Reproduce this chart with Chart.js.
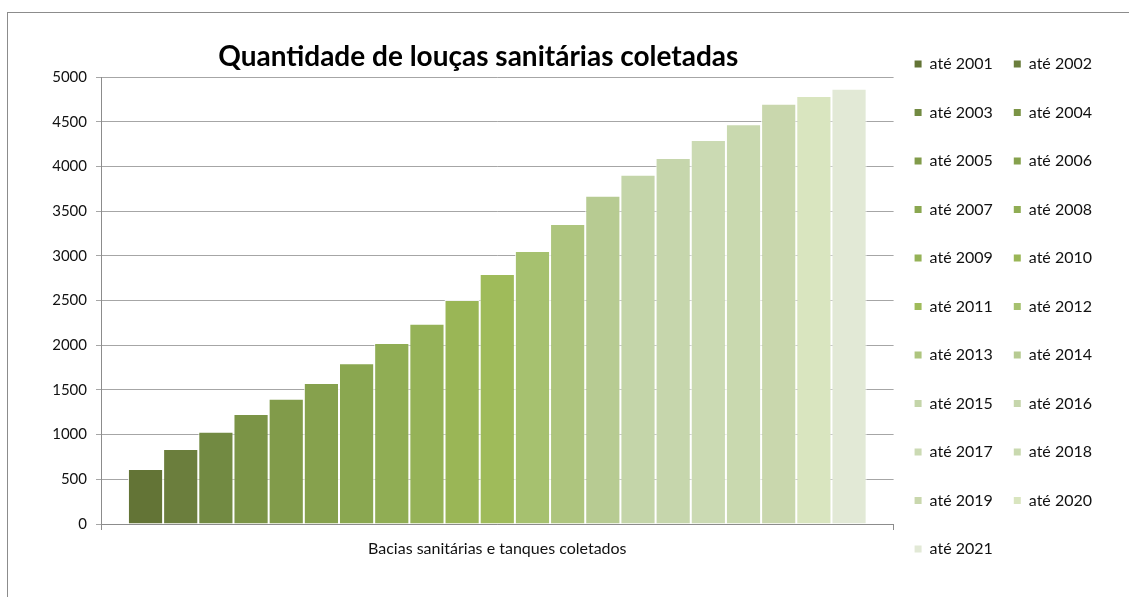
<!DOCTYPE html>
<html>
<head>
<meta charset="utf-8">
<script src="https://cdn.jsdelivr.net/npm/chart.js@4.4.0/dist/chart.umd.min.js"></script>
<style>
  html, body { margin: 0; padding: 0; background: #fff; overflow: hidden; }
  #frame { position: absolute; left: 7px; top: 12px; width: 1300px; height: 800px; border: 1px solid #8c8c8c; }
  #wrap { position: absolute; left: 0; top: 0; width: 1129px; height: 597px; }
</style>
</head>
<body>
<div id="frame"></div>
<div id="wrap"><canvas id="chart"></canvas></div>
<script>
'use strict';

var category = ['Bacias sanitárias e tanques coletados'];
var years = ['até 2001', 'até 2002', 'até 2003', 'até 2004', 'até 2005', 'até 2006', 'até 2007',
  'até 2008', 'até 2009', 'até 2010', 'até 2011', 'até 2012', 'até 2013', 'até 2014',
  'até 2015', 'até 2016', 'até 2017', 'até 2018', 'até 2019', 'até 2020', 'até 2021'];
var values = [615, 839, 1032, 1230, 1402, 1577, 1797, 2025, 2241, 2505, 2796,
  3054, 3356, 3672, 3907, 4094, 4295, 4471, 4701, 4787, 4869];
var colors = ['#637436', '#6b7e3d', '#728a42', '#7b9446', '#819b4a', '#86a14d', '#8aa750',
  '#90ad54', '#95b257', '#9ab656', '#9fbb5a', '#a6c16f', '#aec57e', '#b7cb92',
  '#c4d5a9', '#c6d6ac', '#cbdab3', '#c9d9af', '#c9d7ad', '#d9e5bf', '#e2e9d6'];
var yMin = 0, yMax = 5000, yStep = 500;

var FONT = 'Lato, "Noto Sans", sans-serif';

var datasets = years.map(function(y, i) {
  return {
    label: y,
    data: [values[i]],
    backgroundColor: colors[i],
    borderColor: 'rgba(255,255,255,0.85)',
    borderWidth: 1,
    barPercentage: 1,
    categoryPercentage: 0.932
  };
});

// nudge the title a bit left, like the original
var titleShift = {
  id: 'titleShift',
  afterLayout: function(chart) {
    var t = chart.titleBlock;
    if (t) { t.left -= 19; t.right -= 19; }
  }
};

new Chart(document.getElementById('chart'), {
  type: 'bar',
  data: { labels: category, datasets: datasets },
  plugins: [titleShift],
  options: {
    responsive: true,
    maintainAspectRatio: false,
    animation: false,
    layout: { padding: { top: 35, right: 27, bottom: 0, left: 0 } },
    plugins: {
      tooltip: { enabled: false },
      title: {
        display: true,
        fullSize: false,
        text: 'Quantidade de louças sanitárias coletadas',
        color: '#000',
        font: { family: FONT, size: 28, weight: 'bold', lineHeight: 1.2 },
        padding: { top: 5, bottom: 3.4 }
      },
      legend: {
        position: 'right',
        align: 'start',
        labels: {
          color: '#111',
          font: { family: FONT, size: 16, lineHeight: '27.5px' },
          boxWidth: 7,
          boxHeight: 7,
          padding: 21,
          generateLabels: function(chart) {
            var items = Chart.defaults.plugins.legend.labels.generateLabels(chart);
            items.forEach(function(it) {
              it.text = [it.text];
              it.lineWidth = 0;
            });
            return items;
          },
          // two columns read row by row
          sort: function(a, b) {
            var ka = (a.datasetIndex % 2) * 100 + a.datasetIndex;
            var kb = (b.datasetIndex % 2) * 100 + b.datasetIndex;
            return ka - kb;
          }
        }
      }
    },
    scales: {
      x: {
        grid: { display: true, drawOnChartArea: false, tickLength: 6, color: '#8c8c8c' },
        border: { color: '#8c8c8c' },
        ticks: { color: '#111', font: { family: FONT, size: 16 }, padding: 9 },
        afterFit: function(s) { s.height = 73; }
      },
      y: {
        min: yMin,
        max: yMax,
        ticks: {
          stepSize: yStep,
          color: '#111',
          font: { family: FONT, size: 15 },
          padding: 9,
          callback: function(v) { return String(v); }
        },
        grid: { color: '#a6a6a6', tickLength: 5 },
        border: { color: '#8c8c8c' },
        afterFit: function(s) { s.width = 101; }
      }
    }
  }
});
</script>
</body>
</html>
